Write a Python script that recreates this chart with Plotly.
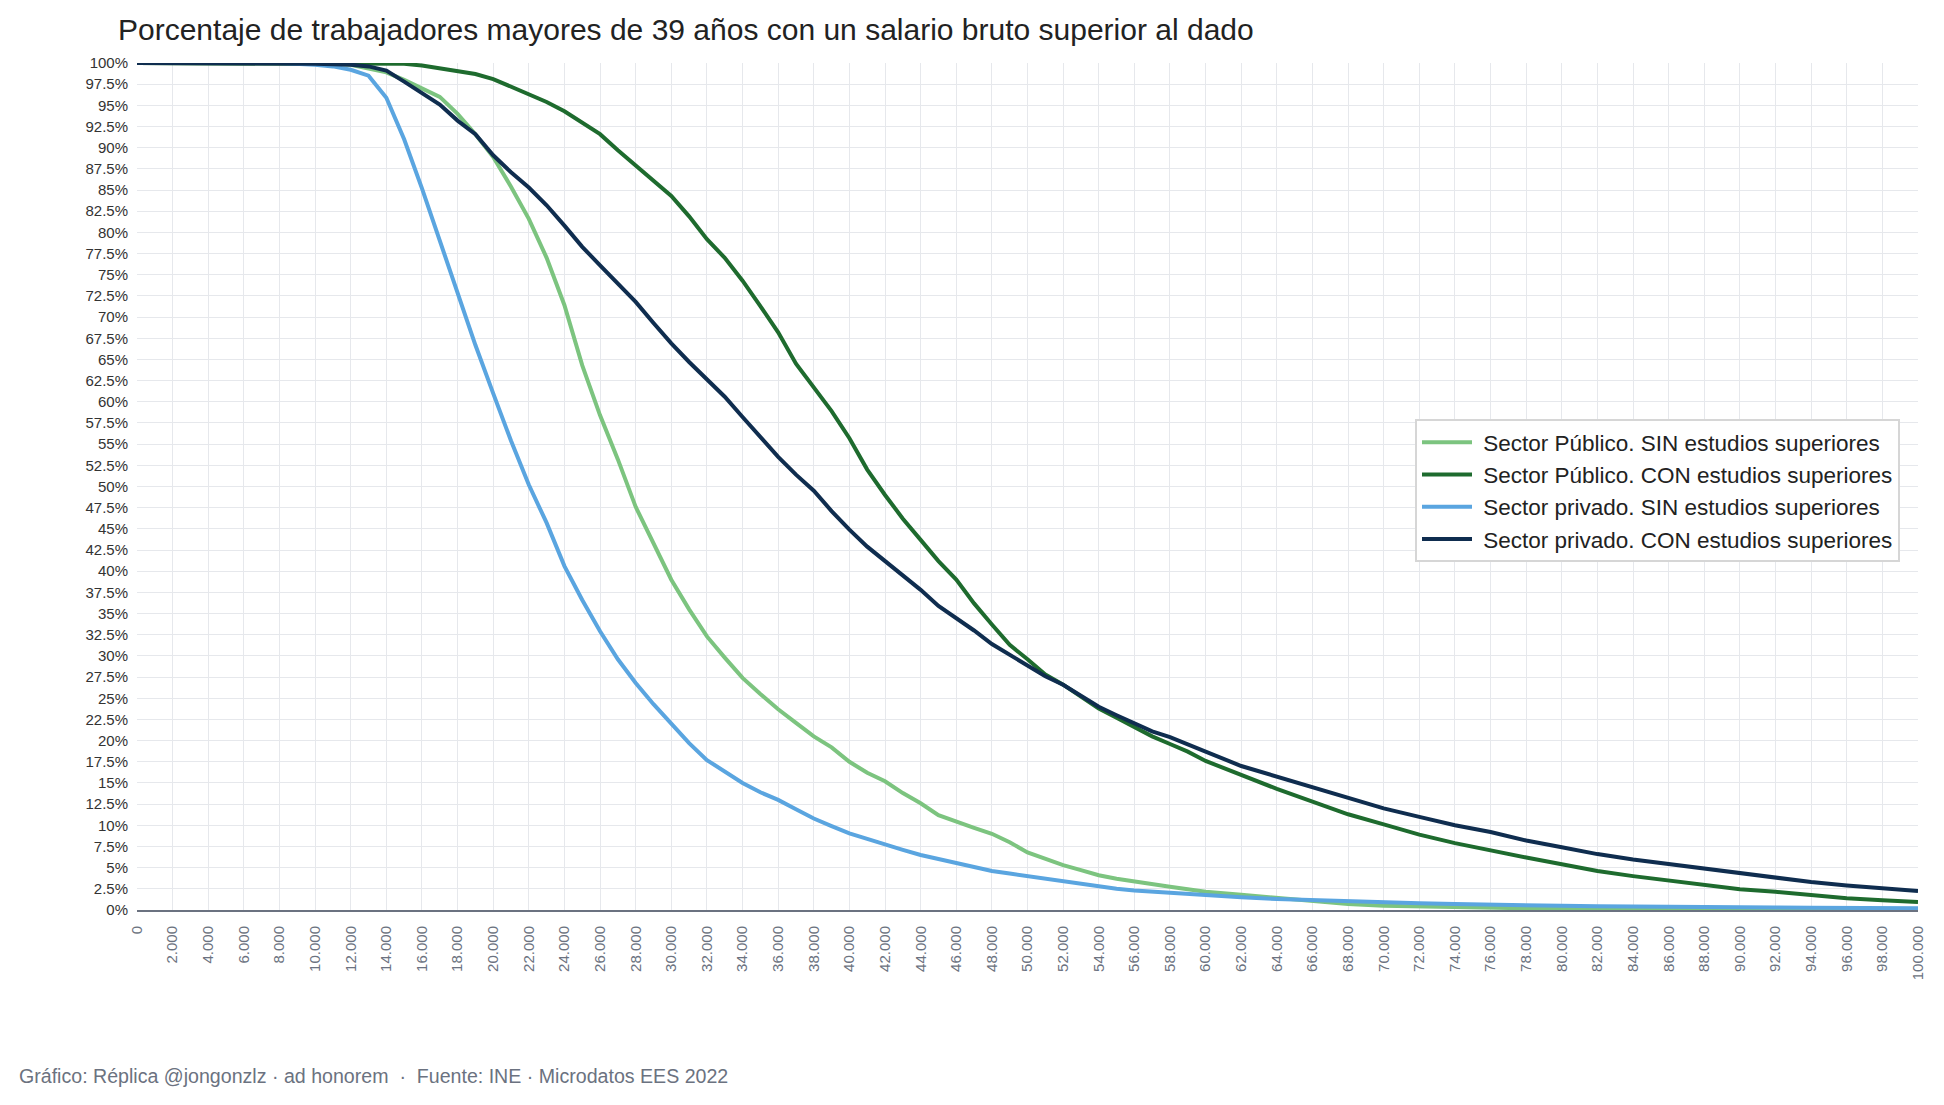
import plotly.graph_objects as go

# Salario bruto anual (euros)
salario = [0, 2000, 4000, 6000, 8000,
           10000, 11000, 12000, 13000, 14000, 15000, 16000, 17000, 18000, 19000,
           20000, 21000, 22000, 23000, 24000, 25000, 26000, 27000, 28000, 29000,
           30000, 31000, 32000, 33000, 34000, 35000, 36000, 37000, 38000, 39000,
           40000, 41000, 42000, 43000, 44000, 45000, 46000, 47000, 48000, 49000,
           50000, 51000, 52000, 53000, 54000, 55000, 56000, 57000, 58000, 59000,
           60000,
           62000, 64000, 66000, 68000, 70000, 72000, 74000, 76000, 78000, 80000,
           82000, 84000, 86000, 88000, 90000, 92000, 94000, 96000, 98000, 100000]

publico_sin = [100, 100, 100, 100, 100,
               99.9, 99.9, 99.8, 99.4, 98.9, 98.0, 97.0, 96.0, 94.0, 91.6,
               88.9, 85.4, 81.6, 77.0, 71.4, 64.3, 58.4, 53.2, 47.6, 43.3,
               39.0, 35.5, 32.3, 29.8, 27.4, 25.5, 23.7, 22.1, 20.5, 19.2,
               17.5, 16.2, 15.2, 13.8, 12.6, 11.2, 10.4, 9.7, 9.0, 8.0,
               6.8, 6.0, 5.3, 4.7, 4.1, 3.7, 3.35, 3.0, 2.75, 2.45,
               2.15,
               1.8, 1.4, 1.0, 0.7, 0.5, 0.4, 0.3, 0.25, 0.2, 0.18,
               0.16, 0.15, 0.14, 0.13, 0.12, 0.12, 0.11, 0.1, 0.1, 0.1]

publico_con = [100, 100, 100, 100, 100,
               100, 100, 100, 100, 99.9, 99.9, 99.7, 99.4, 99.1, 98.7,
               98.1, 97.2, 96.3, 95.4, 94.3, 93.0, 91.6, 89.7, 87.9, 86.1,
               84.3, 81.9, 79.2, 77.0, 74.3, 71.3, 68.2, 64.5, 61.6, 58.9,
               55.7, 52.0, 49.0, 46.2, 43.7, 41.2, 39.0, 36.2, 33.7, 31.3,
               29.6, 27.8, 26.6, 25.2, 23.8, 22.7, 21.65, 20.5, 19.6, 18.7,
               17.6,
               15.95, 14.3, 12.8, 11.3, 10.1, 8.9, 7.9, 7.0, 6.2, 5.4,
               4.6, 4.0, 3.5, 2.95, 2.45, 2.15, 1.75, 1.4, 1.15, 0.95]

privado_sin = [100, 100, 100, 100, 100,
               99.8, 99.6, 99.2, 98.5, 95.9, 91.0, 85.2, 79.0, 72.8, 66.7,
               61.0, 55.4, 50.2, 45.7, 40.6, 36.6, 32.9, 29.6, 26.8, 24.3,
               22.0, 19.7, 17.7, 16.3, 15.0, 13.9, 13.0, 11.9, 10.8, 9.9,
               9.05, 8.4, 7.7, 7.1, 6.5, 6.0, 5.5, 5.0, 4.6, 4.3,
               4.0, 3.7, 3.4, 3.1, 2.75, 2.5, 2.3, 2.15, 2.0, 1.85,
               1.7,
               1.5, 1.3, 1.15, 1.0, 0.9, 0.8, 0.7, 0.6, 0.55, 0.5,
               0.45, 0.4, 0.38, 0.35, 0.32, 0.3, 0.28, 0.25, 0.23, 0.2]

privado_con = [100, 100, 100, 100, 100,
               99.9, 99.85, 99.8, 99.6, 99.1, 97.8, 96.5, 95.1, 93.2, 91.6,
               89.1, 87.1, 85.3, 83.2, 80.8, 78.3, 76.1, 73.9, 71.8, 69.3,
               66.9, 64.7, 62.7, 60.6, 58.2, 55.8, 53.5, 51.4, 49.5, 47.1,
               44.9, 42.9, 41.2, 39.4, 37.8, 35.9, 34.5, 33.0, 31.4, 30.1,
               28.8, 27.6, 26.6, 25.3, 24.0, 23.0, 22.0, 21.1, 20.4, 19.5,
               18.7,
               17.0, 15.75, 14.4, 13.2, 12.0, 11.0, 10.0, 9.2, 8.2, 7.4,
               6.6, 5.95, 5.4, 4.9, 4.3, 3.75, 3.3, 2.9, 2.6, 2.25]

series_names = ["Sector Público. SIN estudios superiores",
                "Sector Público. CON estudios superiores",
                "Sector privado. SIN estudios superiores",
                "Sector privado. CON estudios superiores"]
series_values = [publico_sin, publico_con, privado_sin, privado_con]
series_colors = ["#7cc47f", "#1e6b2e", "#5aa5e0", "#0f2d4f"]

x_tickvals = [0, 2000, 4000, 6000, 8000, 10000, 12000, 14000, 16000, 18000,
              20000, 22000, 24000, 26000, 28000, 30000, 32000, 34000, 36000, 38000,
              40000, 42000, 44000, 46000, 48000, 50000, 52000, 54000, 56000, 58000,
              60000, 62000, 64000, 66000, 68000, 70000, 72000, 74000, 76000, 78000,
              80000, 82000, 84000, 86000, 88000, 90000, 92000, 94000, 96000, 98000,
              100000]
x_ticktext = ["0", "2.000", "4.000", "6.000", "8.000", "10.000", "12.000", "14.000",
              "16.000", "18.000", "20.000", "22.000", "24.000", "26.000", "28.000",
              "30.000", "32.000", "34.000", "36.000", "38.000", "40.000", "42.000",
              "44.000", "46.000", "48.000", "50.000", "52.000", "54.000", "56.000",
              "58.000", "60.000", "62.000", "64.000", "66.000", "68.000", "70.000",
              "72.000", "74.000", "76.000", "78.000", "80.000", "82.000", "84.000",
              "86.000", "88.000", "90.000", "92.000", "94.000", "96.000", "98.000",
              "100.000"]
y_tickvals = [0, 2.5, 5, 7.5, 10, 12.5, 15, 17.5, 20, 22.5, 25, 27.5, 30, 32.5,
              35, 37.5, 40, 42.5, 45, 47.5, 50, 52.5, 55, 57.5, 60, 62.5, 65, 67.5,
              70, 72.5, 75, 77.5, 80, 82.5, 85, 87.5, 90, 92.5, 95, 97.5, 100]
y_ticktext = ["0%", "2.5%", "5%", "7.5%", "10%", "12.5%", "15%", "17.5%", "20%",
              "22.5%", "25%", "27.5%", "30%", "32.5%", "35%", "37.5%", "40%", "42.5%",
              "45%", "47.5%", "50%", "52.5%", "55%", "57.5%", "60%", "62.5%", "65%",
              "67.5%", "70%", "72.5%", "75%", "77.5%", "80%", "82.5%", "85%", "87.5%",
              "90%", "92.5%", "95%", "97.5%", "100%"]

title_text = "Porcentaje de trabajadores mayores de 39 años con un salario bruto superior al dado"
footer_text = "Gráfico: Réplica @jongonzlz · ad honorem  ·  Fuente: INE · Microdatos EES 2022"

FONT = "Liberation Sans, Arial, Helvetica, sans-serif"

fig = go.Figure()
for name, vals, col in zip(series_names, series_values, series_colors):
    fig.add_trace(go.Scatter(x=salario, y=vals, mode="lines", name=" " + name,
                             line=dict(color=col, width=4)))

W, H = 1944, 1105
L, R, T, B = 137, 26, 63, 195
pw, ph = W - L - R, H - T - B

fig.update_layout(
    width=W, height=H,
    margin=dict(l=L, r=R, t=T, b=B),
    paper_bgcolor="white", plot_bgcolor="white",
    font=dict(family=FONT, color="#222222"),
    title=dict(text=title_text, x=118 / W, xanchor="left", xref="container",
               y=1 - 29 / H, yanchor="middle", yref="container",
               font=dict(size=30, color="#222222", family=FONT)),
    legend=dict(x=(1415 - L) / pw, y=(H - B - 419) / ph, xanchor="left", yanchor="top",
                bgcolor="white", bordercolor="#d6d6d6", borderwidth=2,
                font=dict(size=22.5, color="#222222"), itemwidth=50,
                tracegroupgap=0),
    showlegend=True,
    hovermode=False,
)

fig.update_xaxes(range=[0, 100000], tickmode="array", tickvals=x_tickvals,
                 ticktext=x_ticktext, tickangle=-90,
                 tickfont=dict(size=15, color="#6b7280"),
                 showgrid=True, gridcolor="#e6e8ec", gridwidth=1,
                 showline=True, linecolor="#6b7280", linewidth=2,
                 zeroline=False, ticks="", ticklabelstandoff=8)
fig.update_yaxes(range=[0, 100], tickmode="array", tickvals=y_tickvals,
                 ticktext=y_ticktext, tickfont=dict(size=15, color="#333333"),
                 showgrid=True, gridcolor="#e6e8ec", gridwidth=1,
                 showline=False, zeroline=False, ticks="", ticklabelstandoff=8)

fig.add_annotation(text=footer_text, xref="paper", yref="paper",
                   x=(17 - L) / pw, y=(H - B - 1076) / ph,
                   xanchor="left", yanchor="middle", showarrow=False,
                   font=dict(size=19.6, color="#6b7280", family=FONT))

fig.write_html("out.html")
